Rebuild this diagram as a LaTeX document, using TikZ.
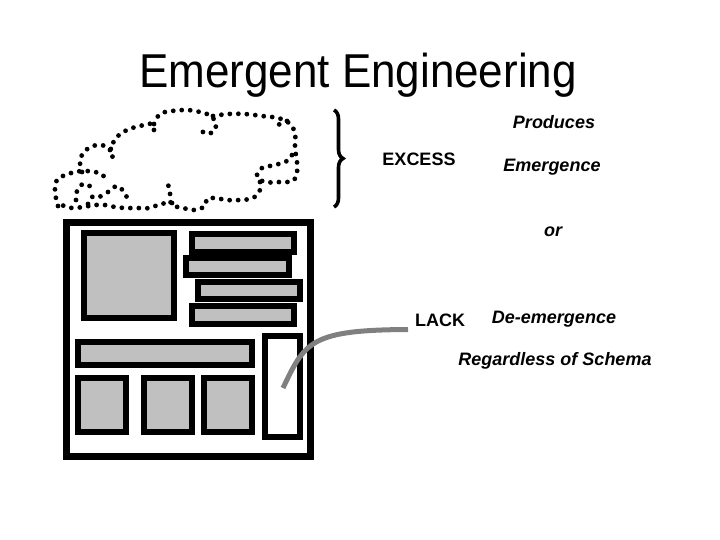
\documentclass[tikz,border=0pt]{standalone}
\usepackage{fontspec}
\setmainfont{Liberation Sans}
\usetikzlibrary{decorations.pathreplacing}
\definecolor{boxgray}{RGB}{192,192,192}
\definecolor{curvegray}{RGB}{128,128,128}
\begin{document}
\begin{tikzpicture}[x=1pt,y=-1pt,
  box/.style={draw=black, line width=6pt, fill=boxgray},
  whitebox/.style={draw=black, line width=6pt, fill=white},
  cloudline/.style={draw=black, line width=4.8pt, line cap=round, dash pattern=on 0pt off 8.5pt},
  lbl/.style={font=\fontsize{18}{21}\selectfont\bfseries, inner sep=0pt, anchor=base},
  ilbl/.style={font=\fontsize{18}{21}\selectfont\bfseries\itshape, inner sep=0pt, anchor=base},
  titlefont/.style={font=\fontsize{44}{50}\selectfont, inner sep=0pt, anchor=base}]
\useasboundingbox (0,0) rectangle (720,540);
\fill[white] (0,0) rectangle (720,540);

% title
\node[titlefont] (title) at (358,88) {\scalebox{1}[1.08]{Emergent Engineering}};

% cloud
\draw[cloudline] plot[smooth, tension=0.6] coordinates {(58,206) (55,192) (57,180) (68,174) (82,171) (95,172) (103,175) (104,181)};
\draw[cloudline] plot[smooth, tension=0.6] coordinates {(82,172) (80,160) (86,150) (97,145) (108,147) (113,152) (112,158)};
\draw[cloudline] plot[smooth, tension=0.6] coordinates {(110,150) (116,138) (127,130) (140,126) (152,124) (154,132)};
\draw[cloudline] plot[smooth, tension=0.6] coordinates {(154,124) (160,114) (172,111) (187,110) (200,112) (211,116) (216,124) (213,132) (204,133) (200,126)};
\draw[cloudline] plot[smooth, tension=0.6] coordinates {(213,116) (228,114) (245,114) (262,116) (278,118) (289,123) (295,133) (295,148) (297,162) (297,173) (293,181) (280,182) (265,182) (257,176) (262,168) (275,165) (287,161) (292,155)};
\draw[cloudline] plot[smooth, tension=0.6] coordinates {(287,121) (280,124) (272,128)};
\draw[cloudline] plot[smooth, tension=0.6] coordinates {(260,182) (260,190) (253,198) (240,200) (227,200) (215,198) (207,199) (205,206) (195,210) (183,208) (172,205) (170,198) (170,190) (167,183)};
\draw[cloudline] plot[smooth, tension=0.6] coordinates {(172,203) (160,204) (150,208) (137,208) (125,208) (115,207) (105,205) (95,205) (83,207) (72,208) (62,205) (58,200)};
\draw[cloudline] plot[smooth, tension=0.6] coordinates {(76,200) (77,191) (83,184) (91,187) (93,193)};
\draw[cloudline] plot[smooth, tension=0.6] coordinates {(108,192) (117,186) (124,192) (128,200)};
\draw[cloudline] plot[smooth, tension=0.6] coordinates {(88,204) (92,197) (100,196) (104,202)};

% brace
\draw[decorate, decoration={brace, amplitude=9pt}, line width=3.6pt] (334,110) -- (334,207);

% layout frame
\draw[whitebox, line width=6.5pt] (66.5,222.5) rectangle (310.5,456.5);
\node[box, minimum width=90pt, minimum height=85pt, inner sep=0pt] (bigsq) at (129,275.5) {};
\draw[box] (192,234) rectangle (294,252);
\draw[box] (186,258) rectangle (288.5,275);
\draw[box] (198,282) rectangle (299.5,299);
\draw[box] (192,305.5) rectangle (294,323.5);
\draw[box] (78,342) rectangle (252,365);
\draw[box] (78,378) rectangle (126,432);
\draw[box] (144,378) rectangle (192,432);
\draw[box] (204,378) rectangle (252,432);
\node[whitebox, minimum width=35pt, minimum height=101pt, inner sep=0pt] (tall) at (282,386.5) {};
\coordinate (cstart) at (283,388);

% labels
\node[ilbl] (produces) at (554,129) {Produces};
\node[lbl] (excess) at (419,165.5) {EXCESS};
\node[ilbl] (emergence) at (552,171.5) {Emergence};
\node[ilbl] (or) at (553,236.5) {or};
\node[lbl, anchor=base west] (lack) at (415,326.5) {LACK};
\node[ilbl] (deem) at (554,323) {De-emergence};
\node[ilbl] (regardless) at (555,365) {Regardless of Schema};

% gray connector
\draw[curvegray, line width=5pt] (cstart) .. controls (305,342) and (310,330) .. ([xshift=-7pt,yshift=-3pt]lack.base west);
\end{tikzpicture}
\end{document}
